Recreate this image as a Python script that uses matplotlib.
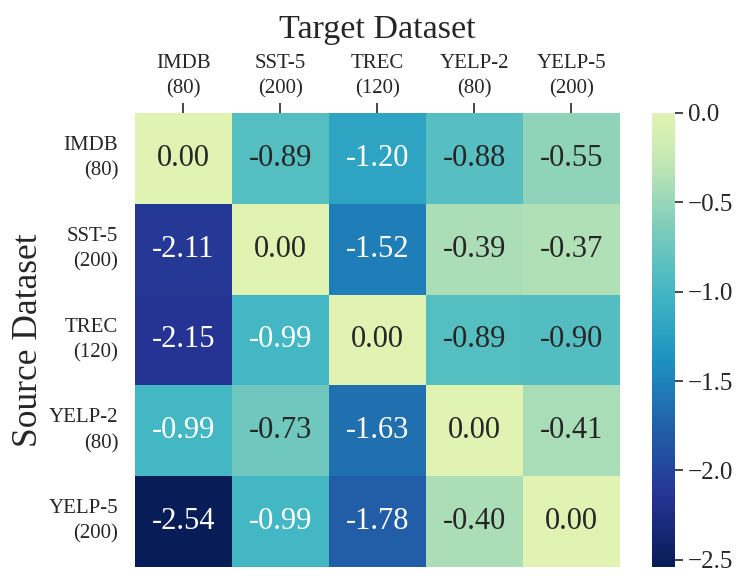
import numpy as np
import matplotlib
matplotlib.use("Agg")
import matplotlib.pyplot as plt
import seaborn as sns
from matplotlib.colors import LinearSegmentedColormap

# datasets (name, number of samples)
names = ["IMDB", "SST-5", "TREC", "YELP-2", "YELP-5"]
sizes = [80, 200, 120, 80, 200]
labels = [f"{n}\n({s})" for n, s in zip(names, sizes)]

# rows = source, cols = target
scores = np.array([
    [0.00, -0.89, -1.20, -0.88, -0.55],
    [-2.11, 0.00, -1.52, -0.39, -0.37],
    [-2.15, -0.99, 0.00, -0.89, -0.90],
    [-0.99, -0.73, -1.63, 0.00, -0.41],
    [-2.54, -0.99, -1.78, -0.40, 0.00],
])

sns.set_theme(style="white")
plt.rcParams["font.family"] = ["Liberation Serif", "DejaVu Serif"]

# YlGnBu without its palest end, reversed
base = plt.get_cmap("YlGnBu")
cmap = LinearSegmentedColormap.from_list(
    "ylgnbu_cut", base(np.linspace(0.17, 1.0, 256))[::-1])

fig = plt.figure(figsize=(7.48, 5.86), dpi=100)
ax = fig.add_axes([0.1805, 0.0324, 0.648, 0.775])
cax = fig.add_axes([0.8717, 0.0324, 0.031, 0.775])

sns.heatmap(scores, ax=ax, cbar_ax=cax, cmap=cmap, vmin=scores.min(), vmax=0,
            annot=True, fmt=".2f", annot_kws={"size": 22},
            xticklabels=labels, yticklabels=labels)

ax.xaxis.tick_top()
ax.xaxis.set_label_position("top")
ax.tick_params(axis="x", which="both", top=True, bottom=False, length=7,
               width=1.2, color="#262626", labelsize=15, pad=3)
ax.tick_params(axis="y", left=False, labelsize=15, pad=6)
ax.set_xticklabels(labels, rotation=0, ha="center", linespacing=1.45)
ax.set_yticklabels(labels, rotation=0, ha="right", va="center",
                   multialignment="right", linespacing=1.45)

ax.set_xlabel("Target Dataset", fontsize=24.5, labelpad=12)
ax.set_ylabel("Source Dataset", fontsize=25.5, labelpad=3)

cax.tick_params(labelsize=18, length=6, width=1.2, color="#262626", pad=3)
cax.set_yticks([0.0, -0.5, -1.0, -1.5, -2.0, -2.5])

fig.savefig("out.png", dpi=100)
